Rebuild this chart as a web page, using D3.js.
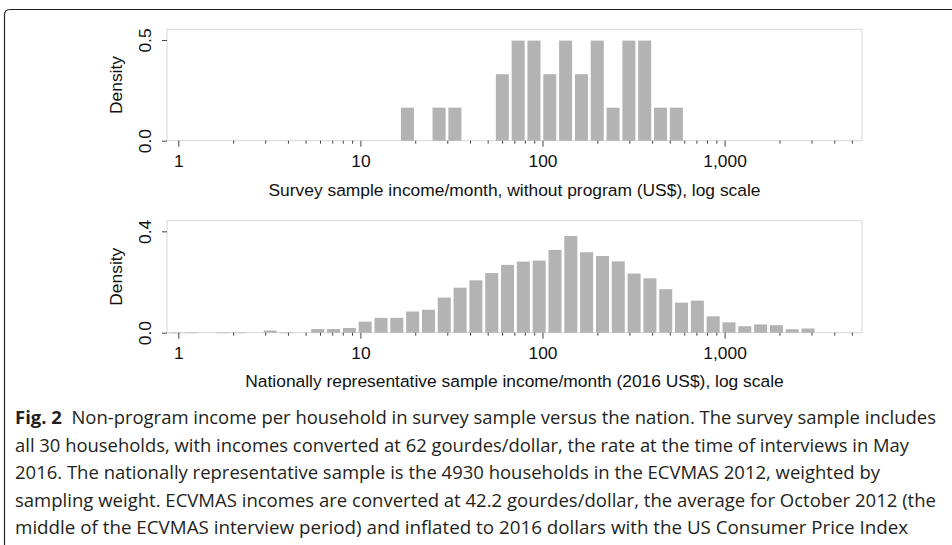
<!DOCTYPE html>
<html>
<head>
<meta charset="utf-8">
<script src="https://cdn.jsdelivr.net/npm/d3@7"></script>
<style>
  body { margin: 0; background: #fff; }
  svg { display: block; }
</style>
</head>
<body>
<script>
// histogram bins are 0.2 wide in ln(income); first lower edge in US$
const binWidthLn = 0.2;

const surveyStart = 16.4;
const surveyDensity = [0.167, 0, 0.167, 0.167, 0, 0, 0.333, 0.5, 0.5, 0.333,
  0.5, 0.333, 0.5, 0.167, 0.5, 0.5, 0.167, 0.167];

const nationStart = 0.872;
const nationDensity = [0.002, 0.003, 0, 0.003, 0.003, 0, 0.011, 0.003, 0, 0.017,
  0.017, 0.021, 0.046, 0.061, 0.061, 0.086, 0.093, 0.141, 0.180, 0.209,
  0.238, 0.270, 0.283, 0.287, 0.329, 0.384, 0.320, 0.305, 0.284, 0.236,
  0.217, 0.174, 0.121, 0.129, 0.067, 0.043, 0.028, 0.035, 0.032, 0.016, 0.019];

const xMajor = [1, 10, 100, 1000];
const xMinor = [2, 3, 4, 5, 6, 7, 8, 9, 20, 30, 40, 50, 60, 70, 80, 90,
  200, 300, 400, 500, 600, 700, 800, 900, 2000, 3000, 4000, 5000];

const captionLines = [
  "Non-program income per household in survey sample versus the nation. The survey sample includes",
  "all 30 households, with incomes converted at 62 gourdes/dollar, the rate at the time of interviews in May",
  "2016. The nationally representative sample is the 4930 households in the ECVMAS 2012, weighted by",
  "sampling weight. ECVMAS incomes are converted at 42.2 gourdes/dollar, the average for October 2012 (the",
  "middle of the ECVMAS interview period) and inflated to 2016 dollars with the US Consumer Price Index"
];
const captionEnds = [936, 909, 880, 936, 908];

const W = 952, H = 545;
const svg = d3.select("body").append("svg")
  .attr("width", W)
  .attr("height", H);

svg.append("rect").attr("width", W).attr("height", H).attr("fill", "#fff");

// figure frame (open to the right and bottom)
svg.append("path")
  .attr("d", `M4.5,${H + 5} V15 Q4.5,9.5 10,9.5 H${W + 5}`)
  .attr("fill", "none")
  .attr("stroke", "#222")
  .attr("stroke-width", 1.2);

const x = d3.scaleLog()
  .domain([0.867, 5680])
  .range([167, 862]);

const chartFont = "'Liberation Sans', Arial, sans-serif";
const chartSize = "17.4px";

function drawPanel(cfg) {
  const y = d3.scaleLinear().domain([0, cfg.yMax]).range([cfg.bottom, cfg.top]);
  const g = svg.append("g");

  const bins = cfg.density.map((d, i) => ({
    x0: Math.exp(Math.log(cfg.start) + i * binWidthLn),
    x1: Math.exp(Math.log(cfg.start) + (i + 1) * binWidthLn),
    d
  })).filter(b => b.d > 0);

  g.append("rect")
    .attr("x", x.range()[0])
    .attr("y", cfg.top)
    .attr("width", x.range()[1] - x.range()[0])
    .attr("height", cfg.bottom - cfg.top)
    .attr("fill", "none")
    .attr("stroke", "#d6d6d6")
    .attr("stroke-width", 1);

  g.selectAll("rect.bar")
    .data(bins)
    .enter().append("rect")
    .attr("class", "bar")
    .attr("x", b => x(b.x0) + 1.4)
    .attr("width", b => x(b.x1) - x(b.x0) - 2.8)
    .attr("y", b => y(b.d) + 0.6)
    .attr("height", b => Math.max(0.6, y(0) - y(b.d) - 0.6))
    .attr("fill", "#b3b3b3");

  // x axis: labelled decades and unlabelled minor ticks
  const gx = g.append("g")
    .attr("transform", `translate(0,${cfg.bottom})`)
    .call(d3.axisBottom(x).tickValues(xMajor).tickSize(6).tickPadding(8)
      .tickFormat(d3.format(",")));
  const gxm = g.append("g")
    .attr("transform", `translate(0,${cfg.bottom})`)
    .call(d3.axisBottom(x).tickValues(xMinor).tickSize(3).tickFormat(""));
  [gx, gxm].forEach(a => {
    a.select(".domain").remove();
    a.selectAll(".tick line").attr("stroke", "#444").attr("stroke-width", 1);
  });
  gx.selectAll(".tick text")
    .attr("fill", "#111")
    .style("font-family", chartFont)
    .style("font-size", chartSize);

  // y axis with rotated labels
  const gy = g.append("g")
    .attr("transform", `translate(${x.range()[0]},0)`)
    .call(d3.axisLeft(y).tickValues(cfg.yTicks).tickSize(5).tickFormat(d3.format(".1f")));
  gy.select(".domain").remove();
  gy.selectAll(".tick line").attr("stroke", "#444");
  gy.selectAll(".tick text")
    .attr("x", 0).attr("y", 0).attr("dy", 0)
    .attr("text-anchor", "middle")
    .attr("transform", "translate(-16,0) rotate(-90)")
    .attr("fill", "#111")
    .style("font-family", chartFont)
    .style("font-size", chartSize);

  g.append("text")
    .attr("transform", `translate(121.5,${(cfg.top + cfg.bottom) / 2}) rotate(-90)`)
    .attr("text-anchor", "middle")
    .attr("fill", "#111")
    .style("font-family", chartFont)
    .style("font-size", chartSize)
    .text("Density");

  g.append("text")
    .attr("x", (x.range()[0] + x.range()[1]) / 2)
    .attr("y", cfg.titleY)
    .attr("text-anchor", "middle")
    .attr("fill", "#111")
    .style("font-family", chartFont)
    .style("font-size", chartSize)
    .text(cfg.title);
}

drawPanel({
  start: surveyStart, density: surveyDensity,
  top: 29.3, bottom: 140.7, yMax: 0.553, yTicks: [0, 0.5],
  titleY: 196,
  title: "Survey sample income/month, without program (US$), log scale"
});

drawPanel({
  start: nationStart, density: nationDensity,
  top: 220.7, bottom: 332.7, yMax: 0.442, yTicks: [0, 0.4],
  titleY: 387,
  title: "Nationally representative sample income/month (2016 US$), log scale"
});

// caption
const cap = svg.append("g")
  .style("font-family", "'Open Sans', 'Noto Sans', sans-serif")
  .style("font-size", "18.5px")
  .attr("fill", "#231f20");

captionLines.forEach((line, i) => {
  const t = cap.append("text")
    .attr("x", 15)
    .attr("y", 424 + i * 27.5)
    .attr("textLength", captionEnds[i] - 15)
    .attr("lengthAdjust", "spacingAndGlyphs");
  if (i === 0) {
    t.append("tspan").style("font-weight", "bold").text("Fig. 2");
    t.append("tspan").text("\u00a0\u00a0" + line);
  } else {
    t.text(line);
  }
});
</script>
</body>
</html>
